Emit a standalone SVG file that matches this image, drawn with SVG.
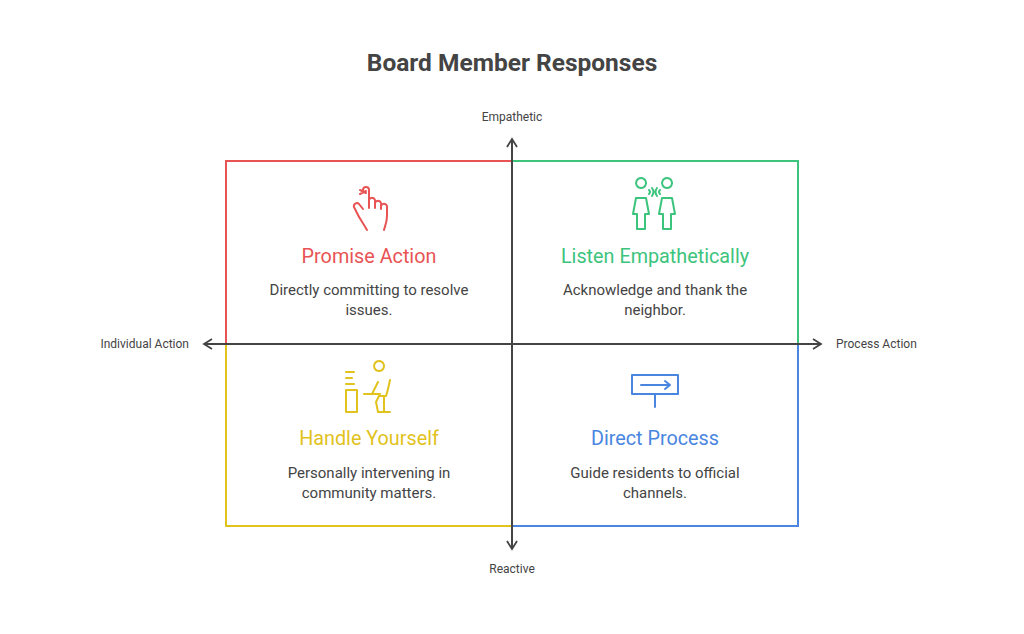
<svg xmlns="http://www.w3.org/2000/svg" width="1024" height="634" viewBox="0 0 1024 634">
<style>
text{font-family:Roboto,"Liberation Sans",sans-serif}
.t{font-size:19.8px;text-anchor:middle}
.d{font-size:15px;fill:#444;text-anchor:middle}
.a{font-size:12px;fill:#444}
.ic{fill:none;stroke-width:2;stroke-linecap:round;stroke-linejoin:round}
</style>
<defs><marker id="ar" markerWidth="12" markerHeight="12" refX="10" refY="6" orient="auto" markerUnits="userSpaceOnUse"><path d="M2,1 L10,6 L2,11" fill="none" stroke="#444" stroke-width="1.8"/></marker></defs>
<rect width="1024" height="634" fill="#fff"/>
<text x="512" y="71" font-size="24.5" font-weight="bold" fill="#444" text-anchor="middle">Board Member Responses</text>
<g id="q1"><rect x="226" y="161" width="286" height="183" fill="none" stroke="#e85454" stroke-width="2"/>
<path class="ic" stroke="#e85454" d="M363,190 a3,3 0 0 1 6,0 v18 M369,200 a3,3 0 0 1 6,2 v6 M375,203 a3,3 0 0 1 6,2 v4 M381,206 a3,3 0 0 1 6,2 v8 c0,6 -2,10 -3,14 M363,209 l-4,-5 a3,3 0 0 0 -5,3 l4,8 c2,4 5,8 9,15 M360,190 l6,3 M360,194 l6,-3"/>
<text class="t" x="369" y="263" fill="#e85454">Promise Action</text>
<text class="d" x="369" y="295">Directly committing to resolve</text><text class="d" x="369" y="315">issues.</text></g>
<g id="q2"><rect x="512" y="161" width="286" height="183" fill="none" stroke="#3cc47c" stroke-width="2"/>
<path class="ic" stroke="#3cc47c" d="M641,188 a5,5 0 1 1 0.1,0 M636,198 h10 l3,16 h-4 v15 h-8 v-15 h-4 z M667,188 a5,5 0 1 1 0.1,0 M662,198 h10 l3,16 h-4 v15 h-8 v-15 h-4 z M649,190 q2,2 0,4 M652,188 q3,4 0,8 M660,190 q-2,2 0,4 M657,188 q-3,4 0,8"/>
<text class="t" x="655" y="263" fill="#3cc47c">Listen Empathetically</text>
<text class="d" x="655" y="295">Acknowledge and thank the</text><text class="d" x="655" y="315">neighbor.</text></g>
<g id="q3"><rect x="226" y="344" width="286" height="182" fill="none" stroke="#e2c21c" stroke-width="2"/>
<path class="ic" stroke="#e2c21c" d="M346,372 h8 M346,378 h6 M346,384 h8 M346,390 h11 v22 h-11 z M379,371 a5,5 0 1 1 0.1,0 M378,382 l-6,12 h-8 M372,394 l8,0 l-4,8 l2,10 M390,380 q-2,10 -4,16 h-6 M384,396 v16 M378,412 h12"/>
<text class="t" x="369" y="445" fill="#e2c21c">Handle Yourself</text>
<text class="d" x="369" y="478">Personally intervening in</text><text class="d" x="369" y="498">community matters.</text></g>
<g id="q4"><rect x="512" y="344" width="286" height="182" fill="none" stroke="#4a86e0" stroke-width="2"/>
<path class="ic" stroke="#4a86e0" d="M632,375 h46 v19 h-46 z M655,394 v13 M641,385 h29 M665,381 l5,4 l-5,4"/>
<text class="t" x="655" y="445" fill="#4a86e0">Direct Process</text>
<text class="d" x="655" y="478">Guide residents to official</text><text class="d" x="655" y="498">channels.</text></g>
<g id="connectors" stroke="#444" stroke-width="2">
<line x1="512" y1="549" x2="512" y2="139" marker-end="url(#ar)"/>
<line x1="512" y1="139" x2="512" y2="549" marker-end="url(#ar)"/>
<line x1="204" y1="344" x2="821" y2="344" marker-end="url(#ar)"/>
<line x1="821" y1="344" x2="204" y2="344" marker-end="url(#ar)"/>
</g>
<text class="a" x="512" y="121" text-anchor="middle">Empathetic</text>
<text class="a" x="512" y="573" text-anchor="middle">Reactive</text>
<text class="a" x="189" y="348" text-anchor="end">Individual Action</text>
<text class="a" x="836" y="348">Process Action</text>
</svg>
